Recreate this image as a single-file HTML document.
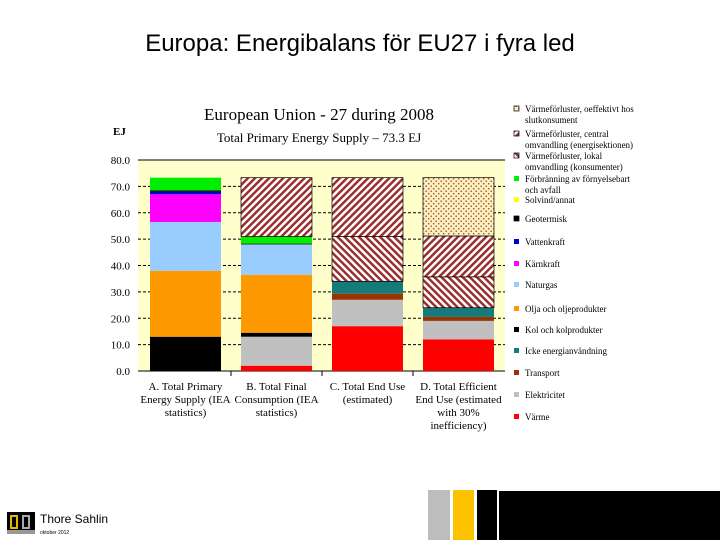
<!DOCTYPE html>
<html><head><meta charset="utf-8"><style>
html,body{margin:0;padding:0;background:#fff;}
body{width:720px;height:540px;overflow:hidden;position:relative;font-family:"Liberation Serif",serif;}
#title{position:absolute;left:0;top:30px;width:720px;text-align:center;font-family:"Liberation Sans",sans-serif;font-size:24px;color:#000;}
</style></head><body>
<div id="title">Europa: Energibalans för EU27 i fyra led</div>
<svg id="chart" width="720" height="540" style="position:absolute;left:0;top:0">
<defs>
<pattern id="hCentral" width="5" height="5" patternUnits="userSpaceOnUse" patternTransform="rotate(45)"><rect width="5" height="5" fill="#fff"/><rect width="2.5" height="5" fill="#9b2f2f"/></pattern>
<pattern id="hLocal" width="5" height="5" patternUnits="userSpaceOnUse" patternTransform="rotate(-45)"><rect width="5" height="5" fill="#fff"/><rect width="2.5" height="5" fill="#9b2f2f"/></pattern>
<pattern id="hDots" width="5" height="5" patternUnits="userSpaceOnUse"><rect width="5" height="5" fill="#fdf0c0"/><circle cx="1.2" cy="1.2" r="0.8" fill="#a0522d"/><circle cx="3.7" cy="3.7" r="0.8" fill="#a0522d"/></pattern>
</defs>
<g id="plot"></g>
<g id="legend"></g>
</svg>
<div style="position:absolute;left:7px;top:512px;width:28px;height:22px;background:#000"><div style="position:absolute;left:3px;top:3px;width:8px;height:14px;border:2px solid #e8b800;box-sizing:border-box"></div><div style="position:absolute;left:15px;top:3px;width:8px;height:14px;border:2px solid #aaa;box-sizing:border-box"></div><div style="position:absolute;left:0;top:18px;width:28px;height:4px;background:#999"></div></div>
<div style="position:absolute;left:40px;top:512px;font-family:'Liberation Sans',sans-serif;font-size:12px">Thore Sahlin</div>
<div style="position:absolute;left:40px;top:530px;font-family:'Liberation Sans',sans-serif;font-size:5px">oktober 2012</div>
<div style="position:absolute;left:428px;top:490px;width:22px;height:50px;background:#bdbdbd"></div>
<div style="position:absolute;left:453px;top:490px;width:21px;height:50px;background:#fcc200"></div>
<div style="position:absolute;left:477px;top:490px;width:20px;height:50px;background:#000"></div>
<div style="position:absolute;left:499px;top:491px;width:221px;height:49px;background:#000"></div>
<script>
const categories=["A","B","C","D"];
const catLabels=[["A. Total Primary","Energy Supply (IEA","statistics)"],["B. Total Final","Consumption (IEA","statistics)"],["C. Total End Use","(estimated)"],["D. Total Efficient","End Use (estimated","with 30%","inefficiency)"]];
const yTicks=[0,10,20,30,40,50,60,70,80];
const seriesNames=["Värme","Elektricitet","Transport","Icke energianvändning","Kol och kolprodukter","Olja och oljeprodukter","Naturgas","Kärnkraft","Vattenkraft","Geotermisk","Solvind/annat","Förbränning av förnyelsebart och avfall","Värmeförluster, lokal omvandling","Värmeförluster, central omvandling","Värmeförluster, oeffektivt hos slutkonsument"];
const seriesFills=["#ff0000","#c0c0c0","#993300","#167a7a","#000000","#ff9900","#99ccff","#ff00ff","#0000cc","#000000","#ffff00","#00ee00","url(#hLocal)","url(#hCentral)","url(#hDots)"];
const sVarme=[0,2,17,12];
const sEl=[0,11,10,7];
const sTransport=[0,0,2.3,1.5];
const sIcke=[0,0,4.7,3.5];
const sKol=[13,1.5,0,0];
const sOlja=[25,22,0,0];
const sGas=[18.5,11.5,0,0];
const sKarn=[10.5,0,0,0];
const sVatten=[1,0,0,0];
const sGeo=[0.5,0.3,0,0];
const sSol=[0,0,0,0];
const sFornyb=[4.8,2.7,0,0];
const sLokal=[0,0,17,11.7];
const sCentral=[0,22.3,22.3,15.5];
const sSlut=[0,0,0,22.1];
const series=[sVarme,sEl,sTransport,sIcke,sKol,sOlja,sGas,sKarn,sVatten,sGeo,sSol,sFornyb,sLokal,sCentral,sSlut];
const NS="http://www.w3.org/2000/svg";
const X0=138,X1=505,Y0=371,Y80=160;
function y(v){return Y0-(v/80)*(Y0-Y80);}
const barW=71, step=91, bx0=150;
function xb(i){return bx0+i*step;}
function mk(t,a,p){const e=document.createElementNS(NS,t);for(const k in a)e.setAttribute(k,a[k]);(p||document.getElementById('plot')).appendChild(e);return e;}
mk('rect',{x:X0,y:Y80,width:X1-X0,height:Y0-Y80,fill:'#ffffcc'});
mk('text',{x:113,y:135,'font-size':11,'font-weight':'bold'}).textContent='EJ';
mk('text',{x:319,y:120,'font-size':17,'text-anchor':'middle'}).textContent='European Union - 27 during 2008';
mk('text',{x:319,y:142,'font-size':13,'text-anchor':'middle'}).textContent='Total Primary Energy Supply  \u2013  73.3 EJ';
yTicks.forEach(t=>{
 const g=mk('line',{x1:X0,x2:X1,y1:y(t),y2:y(t),stroke:'#000','stroke-width':1,'stroke-dasharray':t===0||t===80?'':'3,2'});
 
 const l=mk('text',{x:130,y:y(t)+4,'font-size':11,'text-anchor':'end'});l.textContent=t.toFixed(1);
 
});
for(let i=1;i<4;i++)mk('line',{x1:xb(i)-10,x2:xb(i)-10,y1:Y0,y2:Y0+5,stroke:'#000'});
categories.forEach((c,i)=>{
 let acc=0;
 series.forEach((s,k)=>{
  const v=s[i]; if(v<=0)return;
  const hatch=k>=12;
  const r=mk('rect',{x:xb(i),y:y(acc+v),width:barW,height:y(acc)-y(acc+v),fill:seriesFills[k],stroke:hatch?'#000':'none','stroke-width':hatch?0.7:0});
  
  
  acc+=v;
 });
 catLabels[i].forEach((ln,j)=>{const t=mk('text',{x:xb(i)+barW/2,y:390+j*13,'font-size':11,'text-anchor':'middle'});t.textContent=ln;
 });
});
const lg=document.getElementById('legend');
const legY=[112,137,159,182,203,222,245,267,288,312,333,354,376,398,420];
const legOrder=[14,13,12,11,10,9,8,7,6,5,4,3,2,1,0];
const legText=[["Värmeförluster, oeffektivt hos","slutkonsument"],["Värmeförluster, central","omvandling (energisektionen)"],["Värmeförluster, lokal","omvandling (konsumenter)"],["Förbränning av förnyelsebart","och avfall"],["Solvind/annat"],["Geotermisk"],["Vattenkraft"],["Kärnkraft"],["Naturgas"],["Olja och oljeprodukter"],["Kol och kolprodukter"],["Icke energianvändning"],["Transport"],["Elektricitet"],["Värme"]];
legOrder.forEach((k,j)=>{
 const yy=legY[j];
 const m=mk('rect',{x:514,y:yy-6,width:5,height:5,fill:seriesFills[k],stroke:(k>=12||k===9)?'#000':'none','stroke-width':0.7},lg);
 
 legText[j].forEach((ln,q)=>{const t=mk('text',{x:525,y:yy+q*11,'font-size':9},lg);t.textContent=ln;
 });
});
</script>
</body></html>
